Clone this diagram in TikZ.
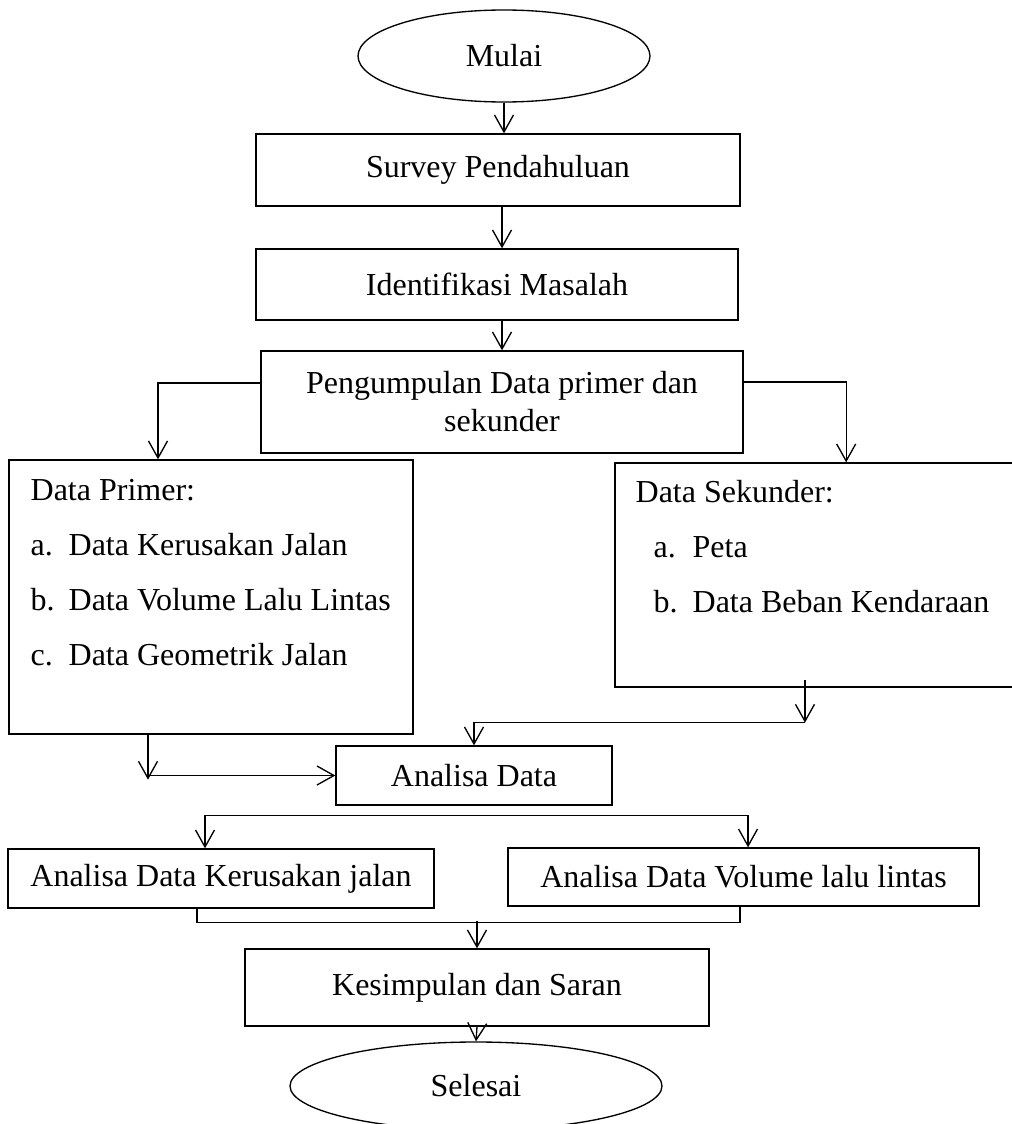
\documentclass[tikz,border=0pt]{standalone}
\usepackage{fontspec}
\setmainfont{Liberation Serif}
\usetikzlibrary{shapes.geometric, positioning, arrows.meta}

\begin{document}
\begin{tikzpicture}[x=0.75pt, y=-0.75pt, line width=1pt,
  >={Straight Barb[length=12.75pt, width=14.25pt]},
  font=\fontsize{24pt}{28.5pt}\selectfont,
  box/.style={rectangle, draw, inner sep=0pt, align=center},
  oval/.style={ellipse, draw, inner sep=0pt},
  listtxt/.style={inner sep=0pt, anchor=base west, font=\fontsize{24pt}{41.25pt}\selectfont}]
  \useasboundingbox (0,0) rectangle (1012,1124);
  \clip (0,0) rectangle (1012,1124);
  \node[oval, minimum width=219pt, minimum height=69pt] (mulai) at (504,56) {Mulai};
  \node[box, minimum width=363pt, minimum height=54pt] (survey) at (498,170) {Survey Pendahuluan};
  \node[box, minimum width=361.5pt, minimum height=53.25pt] (masalah) at (497,284.5) {Identifikasi Masalah};
  \node[box, minimum width=361.5pt, minimum height=76.5pt] (kumpul) at (502,402) {Pengumpulan Data primer dan\\sekunder};
  \node[box, minimum width=303pt, minimum height=205.5pt] (primer) at (211,597) {};
  \node[box, minimum width=318.75pt, minimum height=168pt] (sekunder) at (827.5,575) {};
  \node[listtxt] (primer-txt) at (30,500) {\begin{tabular}[t]{@{}p{28.5pt}@{}l@{}}
    \multicolumn{2}{@{}l@{}}{Data Primer:}\\
    a. & Data Kerusakan Jalan\\
    b. & Data Volume Lalu Lintas\\
    c. & Data Geometrik Jalan
  \end{tabular}};
  \node[listtxt] (sekunder-txt) at (635,502) {\begin{tabular}[t]{@{\hspace{13.5pt}}p{29.25pt}@{}l@{}}
    \multicolumn{2}{@{}l@{}}{Data Sekunder:}\\
    a. & Peta\\
    b. & Data Beban Kendaraan
  \end{tabular}};
  \node[box, minimum width=207pt, minimum height=44.25pt] (analisa) at (474,775.5) {Analisa Data};
  \node[box, minimum width=319.5pt, minimum height=44.25pt] (rusak) at (221,878.5) {Analisa Data Kerusakan jalan};
  \node[box, minimum width=353.25pt, minimum height=43.5pt] (volume) at (743.5,877) {Analisa Data Volume lalu lintas};
  \node[box, minimum width=348pt, minimum height=57.75pt] (simpul) at (477,987.5) {Kesimpulan dan Saran};
  \node[oval, minimum width=279pt, minimum height=66pt] (selesai) at (476,1086) {Selesai};
  \draw[->] (mulai.south) -- (mulai.south |- survey.north);
  \draw[->] ([xshift=3pt]survey.south) -- ([xshift=3pt]survey.south |- masalah.north);
  \draw[->] (masalah.south -| kumpul.north) -- (kumpul.north);
  \draw[->] ([yshift=14.25pt]kumpul.west) -| ([xshift=-39.75pt]primer.north);
  \draw[->] ([yshift=15pt]kumpul.east) -| ([xshift=14pt]sekunder.north);
  \draw[->] ([xshift=-47.25pt]primer.south) -- ++(0,45) coordinate (pbend);
  \draw[->] (pbend |- analisa.west) -- (analisa.west);
  \draw[->] ([xshift=-16.9pt,yshift=6pt]sekunder.south) -- ++(0,43) coordinate (sbend);
  \draw[->] (sbend) -| (analisa.north);
  \draw[<->] ([xshift=-12pt]rusak.north) -- ++(0,-33) -| ([xshift=3.4pt]volume.north);
  \draw ([xshift=-18pt]rusak.south) -- ++(0,14) -| ([xshift=-2.6pt]volume.south);
  \draw[->] ([yshift=20.25pt]simpul.north) -- (simpul.north);
  \draw[->] (simpul.south) -- (selesai.north);
\end{tikzpicture}
\end{document}
